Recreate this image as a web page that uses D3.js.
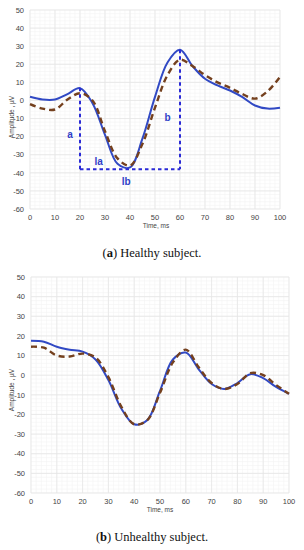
<!DOCTYPE html>
<html>
<head>
<meta charset="utf-8">
<script src="https://cdn.jsdelivr.net/npm/d3@7"></script>
<style>
  body { margin: 0; background: #fff; }
  svg { display: block; }
  .tick-label { font-family: "Liberation Sans", Arial, sans-serif; font-size: 7.5px; fill: #444; }
  .axis-title { font-family: "Liberation Sans", Arial, sans-serif; font-size: 6.5px; fill: #444; }
  .caption { font-family: "Liberation Serif", "DejaVu Serif", serif; font-size: 12.5px; fill: #111; }
  .annot { font-family: "Liberation Sans", Arial, sans-serif; font-size: 10px; font-weight: bold; fill: #2f3fc8; }
</style>
</head>
<body>
<div id="viz"></div>
<script>
// time axis, ms
const times = [0, 5, 10, 15, 20, 25, 30, 35, 40, 45, 50, 55, 60, 65, 70, 75, 80, 85, 90, 95, 100];

// (a) healthy subject
const healthyFit    = [2, 0.5, 0.5, 3.5, 6.8, -1.5, -19, -35, -37, -21, 2, 21, 28, 19, 12, 8.3, 5.5, 1.8, -2.8, -4.5, -4];
const healthySignal = [-2, -4.5, -5, 0.5, 4, 0, -17, -32, -36, -24, -4, 14, 22.5, 19, 14, 10, 7, 3.5, 1, 5, 13];

// (b) unhealthy subject
const unhealthyFit    = [17.5, 17, 14.5, 13, 12, 8, -2.5, -17, -25, -23, -8, 8, 11.5, 3, -4.5, -7, -4, 0.5, -1.5, -6, -9.5];
const unhealthySignal = [14.5, 14, 10, 9.5, 11, 9, -1, -16, -25, -23, -9, 6.5, 13, 4, -4, -7, -4.5, 1, 0, -5, -9.5];

const xTicks = d3.range(0, 101, 10);
const yTicks = d3.range(-60, 51, 10);

// annotation of panel (a): peak times, peak values, trough level
const annotTimes = [20, 60];
const annotPeaks = [7, 28];
const annotBase = -38;
const annotLabels = [
    { text: "a",  t: 16, v: -19 },
    { text: "b",  t: 55, v: -9.5 },
    { text: "la", t: 27.5, v: -34 },
    { text: "lb", t: 38.5, v: -45 }
];

const W = 304, H = 550;
const svg = d3.select("#viz").append("svg")
    .attr("width", W)
    .attr("height", H);

function drawPanel(cfg) {
    const x = d3.scaleLinear().domain([0, 100]).range([cfg.left, cfg.right]);
    const y = d3.scaleLinear().domain([-60, 50]).range([cfg.bottom, cfg.top]);
    const g = svg.append("g");

    // minor grid
    g.selectAll(".vminor")
        .data(d3.range(0, 101, 2))
        .join("line")
            .attr("x1", d => x(d)).attr("x2", d => x(d))
            .attr("y1", y(-60)).attr("y2", y(50))
            .attr("stroke", "#f3f3f3").attr("stroke-width", 0.6);
    g.selectAll(".hminor")
        .data(d3.range(-60, 51, 2))
        .join("line")
            .attr("y1", d => y(d)).attr("y2", d => y(d))
            .attr("x1", x(0)).attr("x2", x(100))
            .attr("stroke", "#f3f3f3").attr("stroke-width", 0.6);

    // major grid
    g.selectAll(".vmajor")
        .data(xTicks)
        .join("line")
            .attr("x1", d => x(d)).attr("x2", d => x(d))
            .attr("y1", y(-60)).attr("y2", y(50))
            .attr("stroke", "#e6e6e6").attr("stroke-width", 0.8);
    g.selectAll(".hmajor")
        .data(yTicks)
        .join("line")
            .attr("y1", d => y(d)).attr("y2", d => y(d))
            .attr("x1", x(0)).attr("x2", x(100))
            .attr("stroke", "#e6e6e6").attr("stroke-width", 0.8);

    // tick labels
    g.selectAll(".ylab")
        .data(yTicks)
        .join("text")
            .attr("class", "tick-label")
            .attr("x", x(0) - 6)
            .attr("y", d => y(d) + 2.7)
            .attr("text-anchor", "end")
            .text(d => d);
    g.selectAll(".xlab")
        .data(xTicks)
        .join("text")
            .attr("class", "tick-label")
            .attr("x", d => x(d))
            .attr("y", y(-60) + 11)
            .attr("text-anchor", "middle")
            .text(d => d);

    g.append("text")
        .attr("class", "axis-title")
        .attr("x", cfg.xTitleX)
        .attr("y", y(-60) + 19)
        .attr("text-anchor", "middle")
        .text("Time, ms");

    g.append("text")
        .attr("class", "axis-title")
        .attr("transform", `translate(14,${cfg.yTitleY}) rotate(-90)`)
        .attr("text-anchor", "middle")
        .text("Amplitude , µV");

    const line = d3.line()
        .x((d, i) => x(times[i]))
        .y(d => y(d))
        .curve(d3.curveCatmullRom.alpha(0.5));

    g.append("path")
        .attr("d", line(cfg.fit))
        .attr("fill", "none")
        .attr("stroke", "#3149c4")
        .attr("stroke-width", 2);

    g.append("path")
        .attr("d", line(cfg.signal))
        .attr("fill", "none")
        .attr("stroke", "#74401e")
        .attr("stroke-width", 2.4)
        .attr("stroke-dasharray", "6,4");

    if (cfg.annotate) {
        const dash = "3.5,3";
        g.selectAll(".vann")
            .data(annotTimes)
            .join("line")
                .attr("x1", d => x(d)).attr("x2", d => x(d))
                .attr("y1", (d, i) => y(annotPeaks[i]))
                .attr("y2", y(annotBase))
                .attr("stroke", "#2a2ad6")
                .attr("stroke-width", 2)
                .attr("stroke-dasharray", dash);
        g.append("line")
            .attr("x1", x(annotTimes[0])).attr("x2", x(annotTimes[1]))
            .attr("y1", y(annotBase)).attr("y2", y(annotBase))
            .attr("stroke", "#2a2ad6")
            .attr("stroke-width", 2)
            .attr("stroke-dasharray", dash);
        g.selectAll(".annot")
            .data(annotLabels)
            .join("text")
                .attr("class", "annot")
                .attr("x", d => x(d.t))
                .attr("y", d => y(d.v) + 3.5)
                .attr("text-anchor", "middle")
                .text(d => d.text);
    }

    const cap = g.append("text")
        .attr("class", "caption")
        .attr("x", W / 2)
        .attr("y", cfg.captionY)
        .attr("text-anchor", "middle");
    cap.append("tspan").text("(");
    cap.append("tspan").attr("font-weight", "bold").text(cfg.letter);
    cap.append("tspan").text(") " + cfg.caption);
}

drawPanel({
    left: 30, right: 280, top: 10, bottom: 209,
    fit: healthyFit, signal: healthySignal,
    xTitleX: 156, yTitleY: 117, captionY: 257,
    letter: "a", caption: "Healthy subject.", annotate: true
});

drawPanel({
    left: 31, right: 289, top: 277, bottom: 493,
    fit: unhealthyFit, signal: unhealthySignal,
    xTitleX: 160, yTitleY: 390, captionY: 541,
    letter: "b", caption: "Unhealthy subject.", annotate: false
});
</script>
</body>
</html>
